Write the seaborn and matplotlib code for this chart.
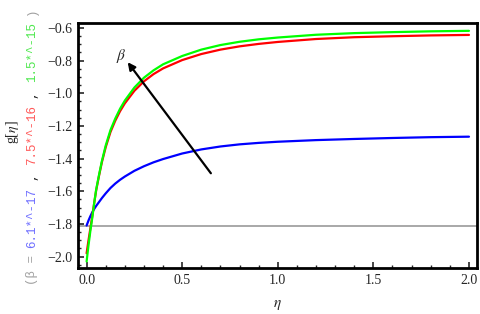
import numpy as np
import pandas as pd
import matplotlib
matplotlib.use("Agg")
import matplotlib.pyplot as plt
import seaborn as sns
from matplotlib.ticker import MultipleLocator

eta = [0, 0.01, 0.02, 0.03, 0.04, 0.05, 0.065, 0.08, 0.1, 0.125, 0.15, 0.175, 0.2, 0.25,
       0.3, 0.35, 0.4, 0.5, 0.6, 0.7, 0.8, 0.9, 1.0, 1.2, 1.4, 1.6, 1.8, 2.0]
g_blue = [-1.81, -1.779, -1.752, -1.728, -1.708, -1.690, -1.666, -1.642, -1.613, -1.580, -1.553,
          -1.530, -1.510, -1.475, -1.447, -1.423, -1.403, -1.369, -1.344, -1.326, -1.313,
          -1.304, -1.297, -1.287, -1.280, -1.274, -1.269, -1.266]
g_red = [-1.98, -1.90, -1.825, -1.75, -1.67, -1.595, -1.505, -1.422, -1.33, -1.237, -1.168,
         -1.11, -1.062, -0.985, -0.927, -0.883, -0.848, -0.797, -0.760, -0.733, -0.713,
         -0.698, -0.686, -0.668, -0.657, -0.651, -0.646, -0.643]
g_green = [-2.03, -1.93, -1.84, -1.76, -1.67, -1.59, -1.50, -1.415, -1.32, -1.225, -1.155,
           -1.095, -1.045, -0.965, -0.905, -0.86, -0.823, -0.772, -0.733, -0.705, -0.685,
           -0.670, -0.659, -0.642, -0.632, -0.626, -0.621, -0.618]
beta_labels = ["6.1*^-17", "7.5*^-16", "1.5*^-15"]
line_colors = ["#0000ff", "#ff0000", "#00ff00"]
text_colors = ["#6f6fff", "#ff5a5a", "#4fe84f"]
baseline = -1.81
arrow_tail = (0.65, -1.49)
arrow_head = (0.215, -0.81)
yticks = [-2.0, -1.8, -1.6, -1.4, -1.2, -1.0, -0.8, -0.6]
xticks = [0.0, 0.5, 1.0, 1.5, 2.0]

sns.set_style("white")
plt.rcParams["font.family"] = ["Liberation Serif", "DejaVu Serif"]
plt.rcParams["mathtext.fontset"] = "stix"

df = pd.DataFrame({
    "eta": eta * 3,
    "g": g_blue + g_red + g_green,
    "beta": [b for b in beta_labels for _ in eta],
})

W, H = 480, 314
fig = plt.figure(figsize=(W / 100, H / 100), dpi=100)
ax = fig.add_axes([78 / W, 1 - 268 / H, 399 / W, 245 / H])

ax.axhline(baseline, color="#a8a8a8", lw=1.4, zorder=1)
sns.lineplot(data=df, x="eta", y="g", hue="beta", palette=line_colors,
             hue_order=beta_labels, lw=1.6, legend=False, ax=ax, zorder=3)

ax.annotate("", xy=arrow_head, xytext=arrow_tail,
            arrowprops=dict(arrowstyle="-|>", color="black", lw=1.6,
                            mutation_scale=11, shrinkA=0, shrinkB=0), zorder=5)
ax.text(0.18, -0.775, r"$\beta$", fontsize=11, ha="center", va="center")

ax.set_xlim(-0.045, 2.042)
ax.set_ylim(-2.07, -0.57)
ax.xaxis.set_minor_locator(MultipleLocator(0.1))
ax.yaxis.set_minor_locator(MultipleLocator(0.05))
ax.set_xticks(xticks)
ax.set_xticklabels([f"{v:.1f}" for v in xticks])
ax.set_yticks(yticks)
ax.set_yticklabels([f"\u2212{abs(v):.1f}" for v in yticks])
ax.tick_params(which="major", direction="in", length=4, width=1.2, labelsize=10, pad=4,
               bottom=True, left=True, top=False, right=False)
ax.tick_params(which="minor", direction="in", length=2, width=1.0,
               bottom=True, left=True, top=False, right=False)
for s in ax.spines.values():
    s.set_color("black")
    s.set_linewidth(2.0)

ax.set_xlabel(r"$\eta$", fontsize=11, labelpad=8)
ax.set_ylabel(r"g[$\eta$]", fontsize=10)
ax.yaxis.set_label_coords((21 - 78) / 399, (268 - 132) / 245)

# rotated multicolour legend text, placed piece by piece (monospace advance)
fs = 9.0
adv = 0.6 * fs * 100 / 72  # pixels per character
y0 = 285
x0 = 32
pieces = [("(\u03b2 =", "#a0a0a0", 0)]
pos = 5
for i, (lab, col) in enumerate(zip(beta_labels, text_colors)):
    pieces.append((lab, col, pos))
    pos += len(lab)
    if i < len(beta_labels) - 1:
        pieces.append((",", "#202020", pos + 1))
        pos += 3
pieces.append((")", "#a0a0a0", pos + 1))
for s, col, p in pieces:
    fig.text(x0 / W, 1 - (y0 - p * adv) / H, s, rotation=90, rotation_mode="anchor",
             ha="left", va="center", fontsize=fs, color=col,
             family=["Liberation Mono", "DejaVu Sans Mono"])

fig.savefig("out.png", dpi=100)
